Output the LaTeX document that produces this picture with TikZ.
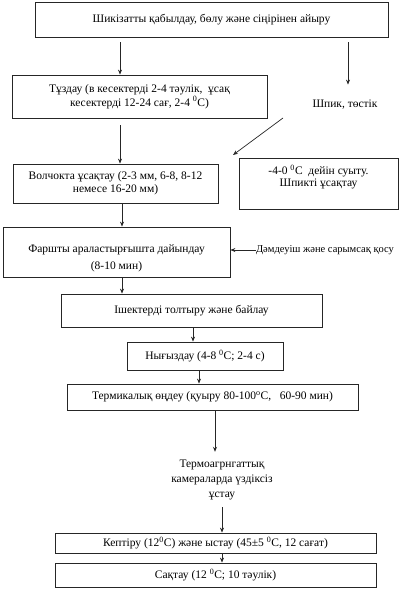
\documentclass[tikz,border=0pt]{standalone}
\usepackage{fontspec}
\setmainfont{Liberation Serif}
\usetikzlibrary{arrows.meta,calc}
\begin{document}
\begin{tikzpicture}[x=1pt,y=-1pt,
  box/.style={draw=black!85,line width=0.8pt,inner sep=0pt,align=center,font=\fontsize{11.5}{14}\selectfont},
  plain/.style={inner sep=0pt,align=center,font=\fontsize{11.5}{14}\selectfont},
  arr/.style={draw=black!85,line width=0.7pt,-{Stealth[length=5pt,width=4pt]}}]
\useasboundingbox (0,0) rectangle (408,600);
\node[box,minimum width=353pt,minimum height=35pt] (b1) at (211.5,19.5) {Шикізатты қабылдау, бөлу және сіңірінен айыру};
\node[box,minimum width=255pt,minimum height=43pt] (b2) at (139.5,96.5) {Тұздау (в кесектерді 2-4 тәулік,\ \ ұсақ\\кесектерді 12-24 сағ, 2-4 \textsuperscript{0}С)};
\node[plain] (shp) at (345,105) {Шпик, төстік};
\node[box,minimum width=205pt,minimum height=39pt,font=\fontsize{11.5}{13}\selectfont] (b3) at (115.5,183.5) {Волчокта ұсақтау (2-3 мм, 6-8, 8-12\\немесе 16-20 мм)};
\node[box,minimum width=159pt,minimum height=51pt] (b4) at (318.5,183.5) {};
\node[plain,font=\fontsize{11.5}{12.5}\selectfont] (b4t) at (318.5,177) {-4-0 \textsuperscript{0}С\ \ дейін суыту.\\Шпикті ұсақтау};
\node[box,minimum width=227pt,minimum height=50pt] (b5) at (116.5,252) {};
\node[plain,font=\fontsize{11.5}{17}\selectfont] (b5t) at (116.5,258) {Фаршты араластырғышта дайындау\\(8-10 мин)};
\node[plain,font=\fontsize{10.5}{12}\selectfont] (side) at (325,250) {Дәмдеуіш және сарымсақ қосу};
\node[box,minimum width=261pt,minimum height=33pt] (b6) at (191.5,310.5) {Ішектерді толтыру және байлау};
\node[box,minimum width=156pt,minimum height=28pt] (b7) at (205,356) {Нығыздау (4-8 \textsuperscript{0}С; 2-4 с)};
\node[box,minimum width=291pt,minimum height=26pt] (b8) at (212.5,397) {Термикалық өңдеу (қуыру 80-100\textsuperscript{о}С,\ \ \ 60-90 мин)};
\node[plain,font=\fontsize{11.5}{15}\selectfont] (tm) at (222,480) {Термоагрнгаттық\\камераларда үздіксіз\\ұстау};
\node[box,minimum width=321pt,minimum height=20pt] (b9) at (215.5,543) {Кептіру (12\textsuperscript{0}С) және ыстау (45±5 \textsuperscript{0}С, 12 сағат)};
\node[box,minimum width=321pt,minimum height=24pt] (b10) at (215.5,575) {Сақтау (12 \textsuperscript{0}С; 10 тәулік)};
\coordinate (xa) at (120,0);
\coordinate (xb) at (122,0);
\coordinate (xr) at (348,0);
\coordinate (xc) at (193,0);
\coordinate (xd) at (199,0);
\coordinate (xe) at (215,0);
\coordinate (xf) at (222,0);
\coordinate (d1) at (283,118);
\coordinate (d2) at (233,155);
\draw[arr] ([yshift=-5pt]b1.south -| xa) -- (b2.north -| xa);
\draw[arr] ([yshift=-5pt]b1.south -| xr) -- ([yshift=-83pt]b1.north -| xr);
\draw[arr] (d1) -- (d2);
\draw[arr] ([yshift=-7pt]b2.south -| xa) -- (b3.north -| xa);
\draw[arr] (b3.south -| xb) -- (b5.north -| xb);
\draw[arr] (side.west) -- (b5.east |- side.west);
\draw[arr] (b5.south -| xb) -- (b6.north -| xb);
\draw[arr] (b6.south -| xc) -- (b7.north -| xc);
\draw[arr] (b7.south -| xd) -- (b8.north -| xd);
\draw[arr] (b8.south -| xe) -- ([yshift=8pt]tm.north -| xe);
\draw[arr] ([yshift=-7pt]tm.south -| xf) -- (b9.north -| xf);
\draw[arr] (b9.south -| xf) -- (b10.north -| xf);
\end{tikzpicture}
\end{document}
